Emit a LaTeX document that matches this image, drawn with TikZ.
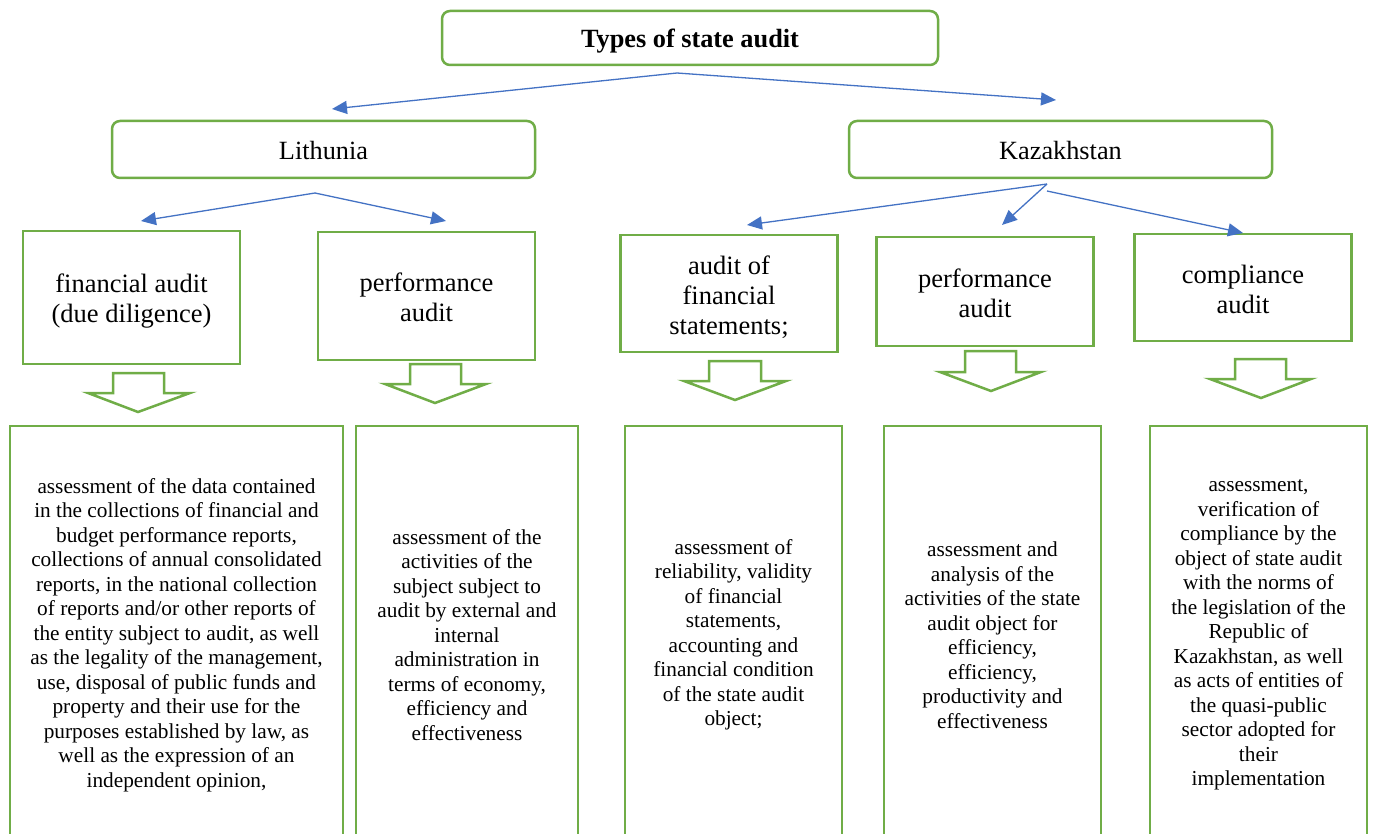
\documentclass[tikz,border=0pt]{standalone}
\usepackage{fontspec}
\setmainfont{Liberation Serif}
\usetikzlibrary{arrows.meta}
\definecolor{grn}{HTML}{70AD47}
\definecolor{blu}{HTML}{4472C4}
\begin{document}
\begin{tikzpicture}[x=1pt,y=-1pt,
  topbox/.style={draw=grn,line width=2.5pt,rounded corners=8pt,inner sep=0pt},
  toptext/.style={inner sep=0pt,font=\fontsize{26.3}{30}\selectfont},
  midbox/.style={draw=grn,line width=2.5pt,inner sep=0pt},
  midtext/.style={inner sep=0pt,align=center,font=\fontsize{26.5}{30}\selectfont},
  lowbox/.style={draw=grn,line width=2.5pt,inner sep=0pt,minimum height=414pt},
  lowtext/.style={inner sep=0pt,align=center,font=\fontsize{21.3}{24.5}\selectfont},
  link/.style={draw=blu,line width=1.3pt,-{Triangle[length=15pt,width=13pt]}},
  blockarrow/.style={draw=grn,line width=2.5pt,line join=miter}]
\useasboundingbox (0,0) rectangle (1373,834);
\fill[white] (0,0) rectangle (1373,834);

% top level
\node[topbox,minimum width=496pt,minimum height=54pt] (title) at (690,38) {};
\node[toptext,yshift=-3.5pt] (titlet) at (title.center) {\bfseries Types of state audit};
\node[topbox,minimum width=423pt,minimum height=57pt] (lit) at (323.5,149.5) {};
\node[toptext,yshift=-1pt] (litt) at (lit.center) {Lithunia};
\node[topbox,minimum width=423pt,minimum height=57pt] (kaz) at (1060.5,149.5) {};
\node[toptext,yshift=-1pt] (kazt) at (kaz.center) {Kazakhstan};

% middle boxes
\node[midbox,minimum width=217pt,minimum height=133pt] (m1) at (131.5,297.5) {};
\node[midtext,yshift=-4pt] (m1t) at (m1.center) {financial audit\\(due diligence)};
\node[midbox,minimum width=217pt,minimum height=128pt] (m2) at (426.5,296) {};
\node[midtext,yshift=-1pt] (m2t) at (m2.center) {performance\\audit};
\node[midbox,minimum width=217pt,minimum height=117pt] (m3) at (729,293.5) {};
\node[midtext,yshift=-4pt] (m3t) at (m3.center) {audit of\\financial\\statements;};
\node[midbox,minimum width=217pt,minimum height=109pt] (m4) at (985,291.5) {};
\node[midtext,yshift=-1.5pt] (m4t) at (m4.center) {performance\\audit};
\node[midbox,minimum width=217pt,minimum height=107pt] (m5) at (1243,287.5) {};
\node[midtext,yshift=-1.5pt] (m5t) at (m5.center) {compliance\\audit};

% bottom boxes
\node[lowbox,minimum width=333pt] (b1) at (176.5,633) {};
\node[lowtext,yshift=-2pt] (b1t) at (b1.center) {assessment of the data contained\\in the collections of financial and\\budget performance reports,\\collections of annual consolidated\\reports, in the national collection\\of reports and/or other reports of\\the entity subject to audit, as well\\as the legality of the management,\\use, disposal of public funds and\\property and their use for the\\purposes established by law, as\\well as the expression of an\\independent opinion,};
\node[lowbox,minimum width=222pt] (b2) at (467,633) {};
\node[lowtext,yshift=-2pt] (b2t) at (b2.center) {assessment of the\\activities of the\\subject subject to\\audit by external and\\internal\\administration in\\terms of economy,\\efficiency and\\effectiveness};
\node[lowbox,minimum width=217pt] (b3) at (733.5,633) {};
\node[lowtext,yshift=-2pt] (b3t) at (b3.center) {assessment of\\reliability, validity\\of financial\\statements,\\accounting and\\financial condition\\of the state audit\\object;};
\node[lowbox,minimum width=217pt] (b4) at (992.5,633) {};
\node[lowtext,yshift=-2pt] (b4t) at (b4.center) {assessment and\\analysis of the\\activities of the state\\audit object for\\efficiency,\\efficiency,\\productivity and\\effectiveness};
\node[lowbox,minimum width=217pt] (b5) at (1258.5,633) {};
\node[lowtext,yshift=-2pt] (b5t) at (b5.center) {assessment,\\verification of\\compliance by the\\object of state audit\\with the norms of\\the legislation of the\\Republic of\\Kazakhstan, as well\\as acts of entities of\\the quasi-public\\sector adopted for\\their\\implementation};

% connector end points
\coordinate (t0) at (677,73);
\coordinate (tl) at (332,109);
\coordinate (tr) at (1056,100);
\coordinate (l0) at (315,193);
\coordinate (l1) at (141,221);
\coordinate (l2) at (446,221);
\coordinate (k0) at (1047,184);
\coordinate (k0b) at (1047,191);
\coordinate (k1) at (747,225);
\coordinate (k2) at (1002,225);
\coordinate (k3) at (1243,233);

\draw[link] (t0) -- (tl);
\draw[link] (t0) -- (tr);
\draw[link] (l0) -- (l1);
\draw[link] (l0) -- (l2);
\draw[link] (k0) -- (k1);
\draw[link] (k0) -- (k2);
\draw[link] (k0b) -- (k3);

% hollow block arrows
\draw[blockarrow] (113,373) -- (164,373) -- (164,393) -- (190,393) -- (138,412) -- (88,393) -- (113,393) -- cycle;
\draw[blockarrow] (410,364) -- (461,364) -- (461,384) -- (486,384) -- (435,403) -- (385,384) -- (410,384) -- cycle;
\draw[blockarrow] (709,361) -- (761,361) -- (761,381) -- (786,381) -- (735,400) -- (684,381) -- (709,381) -- cycle;
\draw[blockarrow] (965,351) -- (1016,351) -- (1016,372) -- (1041,372) -- (991,391) -- (940,372) -- (965,372) -- cycle;
\draw[blockarrow] (1235,359) -- (1286,359) -- (1286,379) -- (1311,379) -- (1261,398) -- (1210,379) -- (1235,379) -- cycle;
\end{tikzpicture}
\end{document}
